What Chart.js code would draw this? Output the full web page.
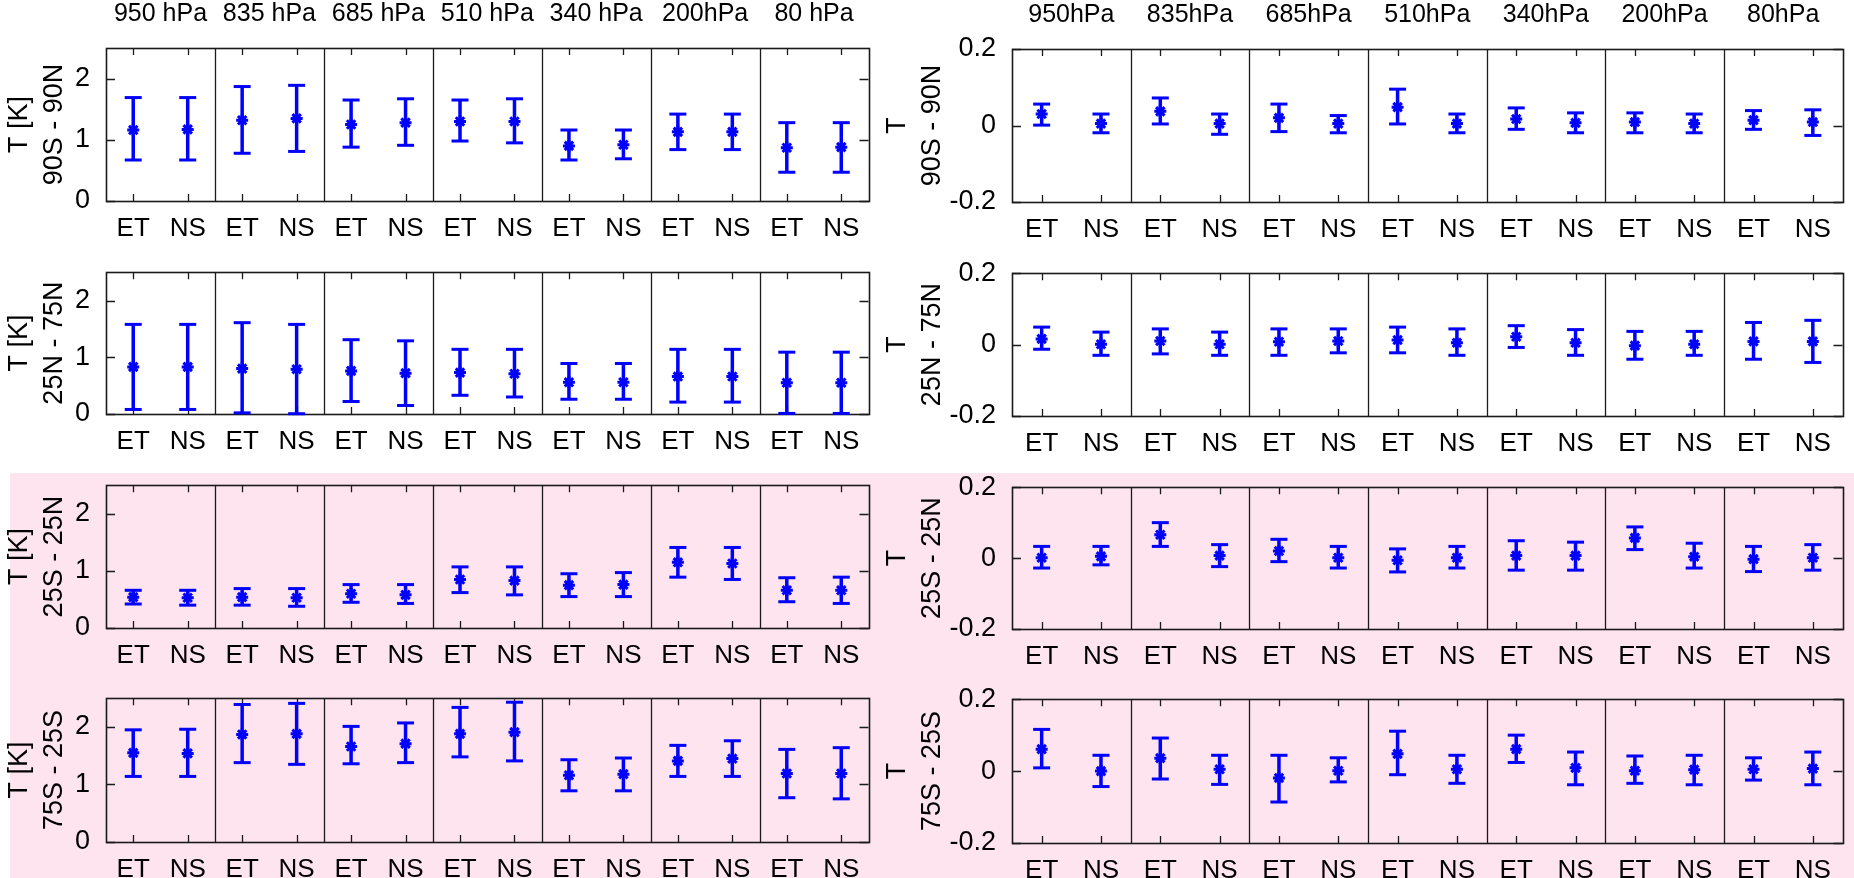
<!DOCTYPE html>
<html>
<head>
<meta charset="utf-8">
<script src="https://cdn.jsdelivr.net/npm/chart.js@4.4.0/dist/chart.umd.min.js"></script>
<style>
  html, body { margin: 0; padding: 0; background: #fff; }
  #page { position: relative; width: 1854px; height: 878px; overflow: hidden; }
  #tropics { position: absolute; left: 10px; top: 473px; right: 0; bottom: 0; background: #fde4ee; }
  canvas { position: absolute; }
</style>
</head>
<body>
<div id="page"><div id="tropics"></div></div>
<script>
// labels
const levelsLeft = ['950 hPa', '835 hPa', '685 hPa', '510 hPa', '340 hPa', '200hPa', '80 hPa'];
const levelsRight = ['950hPa', '835hPa', '685hPa', '510hPa', '340hPa', '200hPa', '80hPa'];
const xLabels = ['ET', 'NS'];
const regions = ['90S - 90N', '25N - 75N', '25S - 25N', '75S - 25S'];
const tTicks = [0, 1, 2];
const dTicks = [-0.2, 0, 0.2];

// values per level: [mean, low, high]
// left column, T [K]
const t90S90N_ET = [[1.16, 0.67, 1.69], [1.32, 0.78, 1.87], [1.25, 0.88, 1.65], [1.30, 0.98, 1.65], [0.90, 0.67, 1.16], [1.13, 0.84, 1.42], [0.87, 0.47, 1.28]];
const t90S90N_NS = [[1.17, 0.67, 1.69], [1.35, 0.81, 1.89], [1.28, 0.91, 1.67], [1.30, 0.95, 1.67], [0.92, 0.69, 1.16], [1.13, 0.84, 1.42], [0.88, 0.47, 1.28]];
const t25N75N_ET = [[0.83, 0.08, 1.58], [0.80, 0.02, 1.61], [0.76, 0.22, 1.31], [0.73, 0.33, 1.14], [0.56, 0.26, 0.89], [0.66, 0.21, 1.14], [0.55, 0.01, 1.09]];
const t25N75N_NS = [[0.83, 0.08, 1.58], [0.79, 0.005, 1.58], [0.72, 0.15, 1.29], [0.71, 0.30, 1.14], [0.56, 0.26, 0.89], [0.66, 0.21, 1.14], [0.55, 0.01, 1.09]];
const t25S25N_ET = [[0.54, 0.42, 0.66], [0.54, 0.40, 0.69], [0.60, 0.45, 0.76], [0.85, 0.62, 1.07], [0.75, 0.55, 0.95], [1.15, 0.89, 1.41], [0.66, 0.46, 0.88]];
const t25S25N_NS = [[0.53, 0.40, 0.66], [0.53, 0.38, 0.69], [0.58, 0.43, 0.76], [0.83, 0.58, 1.07], [0.76, 0.55, 0.97], [1.13, 0.85, 1.41], [0.66, 0.43, 0.89]];
const t75S25S_ET = [[1.55, 1.14, 1.95], [1.87, 1.38, 2.39], [1.66, 1.36, 2.01], [1.88, 1.48, 2.34], [1.16, 0.89, 1.43], [1.41, 1.14, 1.68], [1.19, 0.77, 1.61]];
const t75S25S_NS = [[1.54, 1.14, 1.96], [1.88, 1.35, 2.41], [1.71, 1.38, 2.07], [1.91, 1.41, 2.43], [1.18, 0.89, 1.46], [1.45, 1.14, 1.76], [1.19, 0.75, 1.64]];

// right column, T
const d90S90N_ET = [[0.030, 0.001, 0.056], [0.037, 0.004, 0.072], [0.020, -0.016, 0.056], [0.048, 0.004, 0.095], [0.017, -0.010, 0.046], [0.009, -0.019, 0.033], [0.014, -0.010, 0.039]];
const d90S90N_NS = [[0.005, -0.019, 0.030], [0.005, -0.023, 0.030], [0.005, -0.019, 0.026], [0.005, -0.019, 0.030], [0.007, -0.019, 0.033], [0.005, -0.019, 0.030], [0.009, -0.026, 0.041]];
const d25N75N_ET = [[0.016, -0.013, 0.049], [0.010, -0.026, 0.044], [0.008, -0.030, 0.044], [0.013, -0.023, 0.049], [0.022, -0.008, 0.053], [-0.003, -0.041, 0.037], [0.009, -0.041, 0.062]];
const d25N75N_NS = [[0.001, -0.030, 0.035], [0.001, -0.030, 0.035], [0.010, -0.023, 0.044], [0.005, -0.030, 0.044], [0.005, -0.030, 0.042], [0.001, -0.030, 0.037], [0.009, -0.050, 0.068]];
const d25S25N_ET = [[0.001, -0.028, 0.033], [0.066, 0.033, 0.100], [0.020, -0.010, 0.053], [-0.006, -0.039, 0.026], [0.007, -0.034, 0.049], [0.057, 0.024, 0.088], [-0.003, -0.038, 0.033]];
const d25S25N_NS = [[0.005, -0.019, 0.033], [0.007, -0.024, 0.038], [0.001, -0.028, 0.033], [0.001, -0.028, 0.033], [0.007, -0.034, 0.045], [0.004, -0.028, 0.042], [0.001, -0.034, 0.038]];
const d75S25S_ET = [[0.061, 0.009, 0.116], [0.036, -0.022, 0.092], [-0.019, -0.086, 0.044], [0.048, -0.010, 0.111], [0.061, 0.024, 0.100], [0.001, -0.034, 0.042], [0.005, -0.025, 0.037]];
const d75S25S_NS = [[0.000, -0.043, 0.044], [0.005, -0.037, 0.044], [0.001, -0.030, 0.037], [0.005, -0.034, 0.044], [0.009, -0.038, 0.053], [0.004, -0.038, 0.044], [0.007, -0.038, 0.053]];

Chart.defaults.font.family = '"Liberation Sans", Arial, Helvetica, sans-serif';
Chart.defaults.color = '#000';

const BLUE = '#0000ff';
const page = document.getElementById('page');

// page layout (pixels)
const columns = [
  { left: 0, width: 880, plotLeft: 106, plotRight: 874, yTitle: 'T [K]', min: 0, max: 2.5, ticks: tTicks, levels: levelsLeft, titlePad: 2 },
  { left: 880, width: 974, plotLeft: 132, plotRight: 966, yTitle: 'T', min: -0.2, max: 0.2, ticks: dTicks, levels: levelsRight, titlePad: 0 }
];
const panels = [
  { col: 0, row: 0, top: 48, bottom: 201, et: t90S90N_ET, ns: t90S90N_NS },
  { col: 0, row: 1, top: 262, bottom: 414, et: t25N75N_ET, ns: t25N75N_NS },
  { col: 0, row: 2, top: 475, bottom: 628, et: t25S25N_ET, ns: t25S25N_NS },
  { col: 0, row: 3, top: 688, bottom: 842, et: t75S25S_ET, ns: t75S25S_NS },
  { col: 1, row: 0, top: 49, bottom: 202, et: d90S90N_ET, ns: d90S90N_NS },
  { col: 1, row: 1, top: 263, bottom: 416, et: d25N75N_ET, ns: d25N75N_NS },
  { col: 1, row: 2, top: 477, bottom: 629, et: d25S25N_ET, ns: d25S25N_NS },
  { col: 1, row: 3, top: 689, bottom: 843, et: d75S25S_ET, ns: d75S25S_NS }
];

// matlab style box: frame, level separators, inward ticks
const matlabBox = {
  id: 'matlabBox',
  beforeDatasetsDraw(chart) {
    const { ctx, chartArea: a, scales: { x, y } } = chart;
    ctx.save();
    ctx.strokeStyle = '#1a1a1a';
    ctx.lineWidth = 1.3;
    ctx.beginPath();
    for (let i = 1; i < x.max; i++) {
      const px = Math.round(x.getPixelForValue(i)) + 0.5;
      ctx.moveTo(px, a.top); ctx.lineTo(px, a.bottom);
    }
    x.ticks.forEach(t => {
      const px = Math.round(x.getPixelForValue(t.value)) + 0.5;
      ctx.moveTo(px, a.top); ctx.lineTo(px, a.top + 7);
      ctx.moveTo(px, a.bottom); ctx.lineTo(px, a.bottom - 7);
    });
    y.ticks.forEach(t => {
      const py = Math.round(y.getPixelForValue(t.value)) + 0.5;
      ctx.moveTo(a.left, py); ctx.lineTo(a.left + 9, py);
      ctx.moveTo(a.right, py); ctx.lineTo(a.right - 9, py);
    });
    ctx.stroke();
    ctx.lineWidth = 1.6;
    ctx.strokeRect(Math.round(a.left) + 0.5, Math.round(a.top) + 0.5, Math.round(a.right - a.left), Math.round(a.bottom - a.top));
    ctx.restore();
  }
};

function errorPoints(stats, offset) {
  const pts = [];
  stats.forEach((s, i) => {
    pts.push({ x: i + offset, y: s[1] }, { x: i + offset, y: s[2] }, { x: i + offset, y: null });
  });
  return pts;
}

function meanPoints(stats, offset) {
  return stats.map((s, i) => ({ x: i + offset, y: s[0] }));
}

panels.forEach(p => {
  const col = columns[p.col];
  const topSpace = p.row === 0 ? p.top : 14;
  const bottomSpace = 36;
  const height = topSpace + (p.bottom - p.top) + bottomSpace;
  const n = col.levels.length;

  const canvas = document.createElement('canvas');
  canvas.width = col.width;
  canvas.height = height;
  canvas.style.left = col.left + 'px';
  canvas.style.top = (p.top - topSpace) + 'px';
  canvas.style.width = col.width + 'px';
  canvas.style.height = height + 'px';
  page.appendChild(canvas);

  const tickPos = [];
  for (let i = 0; i < n; i++) tickPos.push(i + 0.25, i + 0.75);

  new Chart(canvas, {
    type: 'line',
    data: {
      datasets: [
        {
          label: 'ET mean', data: meanPoints(p.et, 0.25), showLine: false,
          pointStyle: 'star', pointRadius: 6, pointHoverRadius: 6, pointBorderWidth: 3,
          borderColor: BLUE, backgroundColor: BLUE, clip: false
        },
        {
          label: 'NS mean', data: meanPoints(p.ns, 0.75), showLine: false,
          pointStyle: 'star', pointRadius: 6, pointHoverRadius: 6, pointBorderWidth: 3,
          borderColor: BLUE, backgroundColor: BLUE, clip: false
        },
        {
          label: 'ET range', data: errorPoints(p.et, 0.25), spanGaps: false,
          borderColor: BLUE, borderWidth: 3.5, pointStyle: 'line', pointRadius: 8.5,
          pointHoverRadius: 8.5, pointBorderWidth: 3, pointBorderColor: BLUE, clip: false
        },
        {
          label: 'NS range', data: errorPoints(p.ns, 0.75), spanGaps: false,
          borderColor: BLUE, borderWidth: 3.5, pointStyle: 'line', pointRadius: 8.5,
          pointHoverRadius: 8.5, pointBorderWidth: 3, pointBorderColor: BLUE, clip: false
        }
      ]
    },
    options: {
      responsive: false,
      devicePixelRatio: 1,
      animation: false,
      events: [],
      layout: { padding: { left: 0, right: col.width - col.plotRight, top: 0, bottom: 0 } },
      plugins: { legend: { display: false }, tooltip: { enabled: false } },
      scales: {
        x: {
          type: 'linear', position: 'bottom', min: 0, max: n,
          afterBuildTicks: s => { s.ticks = tickPos.map(v => ({ value: v })); },
          afterFit: s => { s.height = bottomSpace; },
          grid: { display: false }, border: { display: false },
          ticks: {
            autoSkip: false, maxRotation: 0, padding: 4,
            font: { size: 26, lineHeight: 1.2 },
            callback: (v, i) => xLabels[i % 2]
          }
        },
        xTop: {
          type: 'linear', position: 'top', min: 0, max: n,
          afterBuildTicks: s => { s.ticks = col.levels.map((_, i) => ({ value: i + 0.5 })); },
          afterFit: s => { s.height = topSpace; },
          grid: { display: false }, border: { display: false },
          ticks: {
            display: p.row === 0, autoSkip: false, maxRotation: 0, padding: 11,
            font: { size: 25, lineHeight: 1.2 },
            callback: (v, i) => col.levels[i]
          }
        },
        y: {
          type: 'linear', min: col.min, max: col.max,
          afterBuildTicks: s => { s.ticks = col.ticks.map(v => ({ value: v })); },
          afterFit: s => { s.width = col.plotLeft; },
          grid: { display: false }, border: { display: false },
          ticks: { padding: 8, font: { size: 27 }, callback: v => String(v) },
          title: {
            display: true, text: [col.yTitle, regions[p.row]],
            font: { size: 27, lineHeight: 1.3 },
            padding: { top: col.titlePad, bottom: 0 }
          }
        }
      }
    },
    plugins: [matlabBox]
  });
});
</script>
</body>
</html>
